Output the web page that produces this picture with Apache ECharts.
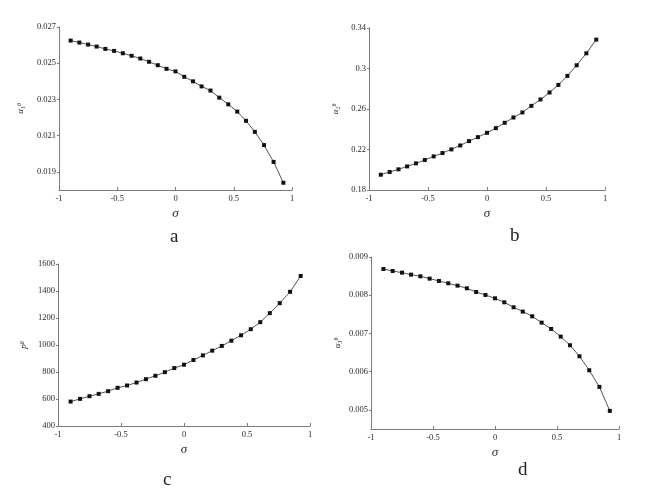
<!DOCTYPE html>
<html>
<head>
<meta charset="utf-8">
<script src="https://cdn.jsdelivr.net/npm/echarts@6/dist/echarts.min.js"></script>
<style>
html,body{margin:0;padding:0;background:#fff;}
#c{width:665px;height:493px;}
</style>
</head>
<body>
<div id="c"></div>
<script>
var sigma = [-0.9,-0.825,-0.75,-0.677,-0.602,-0.527,-0.452,-0.377,-0.302,-0.227,-0.152,-0.077,0,0.075,0.15,0.224,0.3,0.376,0.453,0.53,0.605,0.681,0.76,0.842,0.926];
var alpha1 = [0.02625,0.02614,0.02603,0.02592,0.02579,0.02568,0.02555,0.02541,0.02526,0.02508,0.02489,0.02469,0.02455,0.02425,0.02400,0.02372,0.02349,0.02310,0.02273,0.02233,0.02182,0.02121,0.02048,0.01955,0.01840];
var alpha2 = [0.1951,0.1978,0.2004,0.2033,0.2063,0.2096,0.2132,0.2165,0.2201,0.2240,0.2283,0.2322,0.2365,0.2411,0.2464,0.2516,0.2566,0.2631,0.2694,0.2763,0.2838,0.2927,0.3032,0.3150,0.3285];
var pTheta = [581,601,621,638,658,683,700,722,747,772,799,829,854,889,923,958,993,1032,1072,1117,1169,1236,1310,1394,1511];
var alpha3 = [0.008686,0.008634,0.008590,0.008538,0.008495,0.008434,0.008373,0.008312,0.008251,0.008181,0.008085,0.008007,0.007919,0.007815,0.007685,0.007571,0.007449,0.007283,0.007118,0.006917,0.006691,0.006403,0.006037,0.005601,0.004974];
var xTicks = [-1,-0.5,0,0.5,1];
var yTicksA = [0.019,0.021,0.023,0.025,0.027];
var yTicksD = [0.005,0.006,0.007,0.008,0.009];
var panelLetters = ['a','b','c','d'];

var FONT = '"Liberation Serif","Times New Roman",serif';
var axisCol = '#7a7a7a';
var labCol = '#2a2a2a';

function pairs(ys){ return sigma.map(function(s,i){ return [s, ys[i]]; }); }

var grids = [
  {left:59, top:27, width:233, height:163},
  {left:369, top:28, width:236, height:162},
  {left:58, top:264, width:252, height:162},
  {left:371, top:257, width:248, height:172}
];

function xAxis(i){
  return {
    type:'value', gridIndex:i, min:-1, max:1, interval:0.5,
    name:'σ', nameLocation:'middle', nameGap:17,
    nameTextStyle:{fontFamily:FONT, fontStyle:'italic', fontSize:13, color:labCol},
    axisLine:{show:true, onZero:false, lineStyle:{color:axisCol, width:1}},
    axisTick:{show:true, inside:true, length:3, lineStyle:{color:axisCol}, customValues:xTicks},
    axisLabel:{fontFamily:FONT, fontSize:8.5, color:labCol, margin:4, customValues:xTicks,
      formatter:function(v){return String(v);}},
    splitLine:{show:false}
  };
}
function yName(sym, sub){
  return '{m|' + sym + '}{s|' + sub + '}{p|θ}';
}
var richY = {
  m:{fontFamily:FONT, fontStyle:'italic', fontSize:9, color:labCol},
  s:{fontFamily:FONT, fontStyle:'italic', fontSize:6, color:labCol, verticalAlign:'bottom', padding:[4,0,0,0]},
  p:{fontFamily:FONT, fontStyle:'italic', fontSize:6, color:labCol, verticalAlign:'top', padding:[0,0,4,0]}
};
function yAxis(i, opt){
  var base = {
    type:'value', gridIndex:i,
    nameLocation:'middle', nameRotate:90,
    nameTextStyle:{rich:richY},
    axisLine:{show:true, onZero:false, lineStyle:{color:axisCol, width:1}},
    axisTick:{show:true, inside:false, length:2, lineStyle:{color:axisCol}},
    axisLabel:{fontFamily:FONT, fontSize:8.5, color:labCol, margin:3},
    splitLine:{show:false}
  };
  for (var k in opt) {
    if (k === 'axisLabel' || k === 'axisTick') {
      for (var kk in opt[k]) base[k][kk] = opt[k][kk];
    } else base[k] = opt[k];
  }
  return base;
}

function series(i, ys){
  return {
    type:'line', xAxisIndex:i, yAxisIndex:i, data:pairs(ys),
    symbol:'rect', symbolSize:4, showSymbol:true,
    lineStyle:{color:'#555', width:1},
    itemStyle:{color:'#111'},
    silent:true, animation:false
  };
}

var titles = [
  {text:panelLetters[0], left:165, top:223},
  {text:panelLetters[1], left:505, top:222},
  {text:panelLetters[2], left:158, top:466},
  {text:panelLetters[3], left:513, top:456}
].map(function(t){
  t.textStyle = {fontFamily:FONT, fontWeight:'normal', fontSize:19, color:'#222'};
  return t;
});

var option = {
  backgroundColor:'#fff',
  animation:false,
  title: titles,
  grid: grids,
  xAxis: [xAxis(0), xAxis(1), xAxis(2), xAxis(3)],
  yAxis: [
    yAxis(0, {min:0.018, max:0.027, name:yName('α','1'), nameGap:33,
      axisLabel:{customValues:yTicksA, formatter:function(v){return v.toFixed(3);}},
      axisTick:{customValues:yTicksA}}),
    yAxis(1, {min:0.18, max:0.34, interval:0.04, name:yName('α','2'), nameGap:28,
      axisLabel:{formatter:function(v){return String(+v.toFixed(2));}}}),
    yAxis(2, {min:400, max:1600, interval:200, name:'{m|p}{p|θ}', nameGap:29,
      axisLabel:{formatter:function(v){return String(Math.round(v));}}}),
    yAxis(3, {min:0.0045, max:0.009, name:yName('α','3'), nameGap:28,
      axisLabel:{customValues:yTicksD, formatter:function(v){return v.toFixed(3);}},
      axisTick:{customValues:yTicksD}})
  ],
  series: [series(0, alpha1), series(1, alpha2), series(2, pTheta), series(3, alpha3)]
};

var chart = echarts.init(document.getElementById('c'), null, {renderer:'canvas'});
chart.setOption(option);
</script>
</body>
</html>
